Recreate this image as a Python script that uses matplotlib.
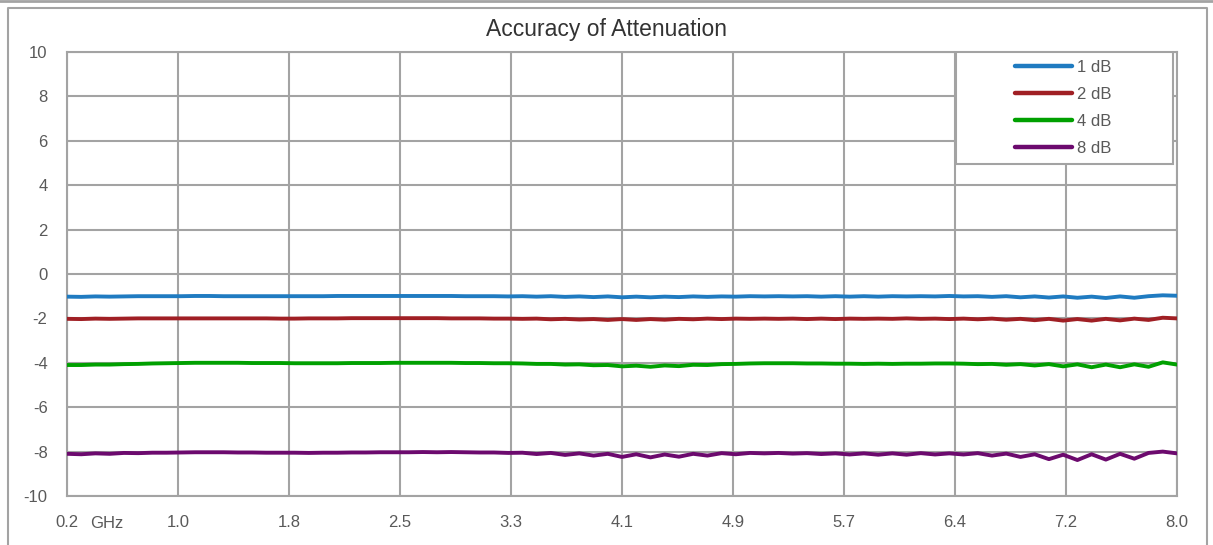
import numpy as np
import matplotlib
matplotlib.use("Agg")
import matplotlib.pyplot as plt
from matplotlib.lines import Line2D
from matplotlib.patches import Rectangle

# frequency points, GHz (0.2 .. 8.0 every 0.1)
freq = np.round(np.linspace(0.2, 8.0, 79), 1)

tick_labels = ["0.2", "1.0", "1.8", "2.5", "3.3", "4.1", "4.9", "5.7", "6.4", "7.2", "8.0"]

att_1db = [
    -1.02, -1.03, -1.01, -1.02, -1.01, -1.00, -1.00, -1.00, -1.00, -0.99,
    -0.99, -1.00, -1.00, -1.00, -1.00, -1.00, -1.00, -1.00, -1.00, -0.99,
    -0.99, -0.99, -0.99, -0.99, -0.99, -0.99, -0.99, -0.99, -1.00, -1.00,
    -1.00, -1.01, -1.00, -1.02, -1.00, -1.03, -1.01, -1.04, -1.01, -1.05,
    -1.02, -1.05, -1.02, -1.04, -1.01, -1.03, -1.01, -1.02, -1.00, -1.01,
    -1.00, -1.01, -1.00, -1.02, -1.00, -1.02, -1.00, -1.02, -1.00, -1.01,
    -1.00, -1.01, -0.99, -1.01, -1.00, -1.03, -1.00, -1.05, -1.01, -1.06,
    -1.01, -1.07, -1.02, -1.08, -1.01, -1.07, -1.00, -0.96, -0.98,
]

att_2db = [
    -2.02, -2.03, -2.01, -2.02, -2.01, -2.00, -2.00, -2.00, -2.00, -2.00,
    -2.00, -2.00, -2.00, -2.00, -2.00, -2.01, -2.01, -2.00, -2.00, -2.00,
    -1.99, -1.99, -1.99, -1.99, -1.99, -1.99, -1.99, -2.00, -2.00, -2.00,
    -2.01, -2.01, -2.02, -2.01, -2.04, -2.02, -2.05, -2.03, -2.07, -2.03,
    -2.07, -2.03, -2.06, -2.02, -2.04, -2.01, -2.03, -2.01, -2.02, -2.01,
    -2.02, -2.01, -2.03, -2.01, -2.03, -2.01, -2.02, -2.01, -2.02, -2.00,
    -2.02, -2.01, -2.03, -2.01, -2.04, -2.01, -2.06, -2.02, -2.08, -2.02,
    -2.10, -2.03, -2.10, -2.02, -2.09, -2.01, -2.07, -1.97, -2.00,
]

att_4db = [
    -4.10, -4.10, -4.08, -4.08, -4.06, -4.05, -4.03, -4.02, -4.01, -4.00,
    -4.00, -4.00, -4.00, -4.01, -4.01, -4.01, -4.02, -4.02, -4.02, -4.02,
    -4.01, -4.01, -4.01, -4.00, -4.00, -4.00, -4.00, -4.00, -4.01, -4.01,
    -4.02, -4.02, -4.03, -4.05, -4.05, -4.08, -4.07, -4.11, -4.10, -4.16,
    -4.13, -4.18, -4.12, -4.15, -4.09, -4.10, -4.06, -4.05, -4.03, -4.02,
    -4.02, -4.02, -4.03, -4.03, -4.04, -4.04, -4.05, -4.04, -4.05, -4.04,
    -4.04, -4.03, -4.03, -4.04, -4.06, -4.05, -4.09, -4.06, -4.12, -4.06,
    -4.16, -4.07, -4.20, -4.08, -4.20, -4.07, -4.18, -3.98, -4.08,
]

att_8db = [
    -8.10, -8.12, -8.08, -8.10, -8.06, -8.07, -8.05, -8.05, -8.04, -8.03,
    -8.03, -8.03, -8.04, -8.04, -8.05, -8.05, -8.05, -8.06, -8.05, -8.05,
    -8.04, -8.04, -8.03, -8.03, -8.03, -8.02, -8.03, -8.02, -8.03, -8.04,
    -8.04, -8.06, -8.05, -8.11, -8.06, -8.15, -8.08, -8.18, -8.10, -8.24,
    -8.12, -8.26, -8.13, -8.23, -8.10, -8.18, -8.07, -8.12, -8.06, -8.08,
    -8.06, -8.09, -8.07, -8.11, -8.08, -8.13, -8.08, -8.14, -8.08, -8.14,
    -8.07, -8.13, -8.08, -8.13, -8.07, -8.18, -8.09, -8.24, -8.12, -8.34,
    -8.14, -8.38, -8.12, -8.36, -8.10, -8.32, -8.06, -8.00, -8.08,
]

series = [
    ("1 dB", att_1db, "#1F7BC1"),
    ("2 dB", att_2db, "#A01F24"),
    ("4 dB", att_4db, "#00A000"),
    ("8 dB", att_8db, "#6C0A6E"),
]

grid_c = "#A3A3A3"
text_c = "#595959"
plt.rcParams["font.family"] = ["Liberation Sans", "DejaVu Sans"]
plt.rcParams["axes.unicode_minus"] = False

fig = plt.figure(figsize=(12.13, 5.45), dpi=100)
W, H = 1213, 545
ax = fig.add_axes([67 / W, 1 - 496 / H, 1110 / W, 444 / H])

for name, vals, col in series:
    ax.plot(freq, vals, color=col, lw=2.8, label=name, zorder=3,
            solid_capstyle="round", solid_joinstyle="round")

xt = [0.2 + 0.78 * i for i in range(len(tick_labels))]
ax.set_xlim(0.2, 8.0)
ax.set_ylim(-10, 10)
ax.set_xticks(xt)
ax.set_xticklabels(tick_labels)
ax.set_yticks(range(-10, 11, 2))
ax.tick_params(length=0, labelsize=12, colors=text_c)
ax.tick_params(axis="x", pad=14)
ax.tick_params(axis="y", pad=14)
ax.grid(True, color=grid_c, lw=1.5)
ax.set_axisbelow(True)
for s in ax.spines.values():
    s.set_color(grid_c)
    s.set_linewidth(1.5)
ax.text(0.48, -0.046, "GHz", transform=ax.get_xaxis_transform(),
        ha="center", va="top", fontsize=12, color=text_c)

fig.suptitle("Accuracy of Attenuation", x=607 / W, y=1 - 18 / H, va="top",
             fontsize=16.5, color="#333333")

# legend frame + entries
ax.add_patch(Rectangle((0.801, 0.748), 0.195, 0.252, transform=ax.transAxes,
                       facecolor="white", edgecolor=grid_c, lw=1.5, zorder=4))
leg = ax.legend(loc="upper left", bbox_to_anchor=(0.854, 0.982), frameon=False,
                borderpad=0, borderaxespad=0, handlelength=3.4, handletextpad=0.3,
                labelspacing=0.72, fontsize=12)
leg.set_zorder(5)
for h in leg.legend_handles:
    h.set_linewidth(3.2)
for t in leg.get_texts():
    t.set_color(text_c)

# chart border
fig.add_artist(Line2D([0, 1], [1 - 1 / H, 1 - 1 / H], color=grid_c, lw=2))
fig.add_artist(Line2D([8 / W, 8 / W, 1207 / W, 1207 / W],
                      [0, 1 - 7.5 / H, 1 - 7.5 / H, 0], color=grid_c, lw=1.5))

fig.savefig("out.png", dpi=100)
